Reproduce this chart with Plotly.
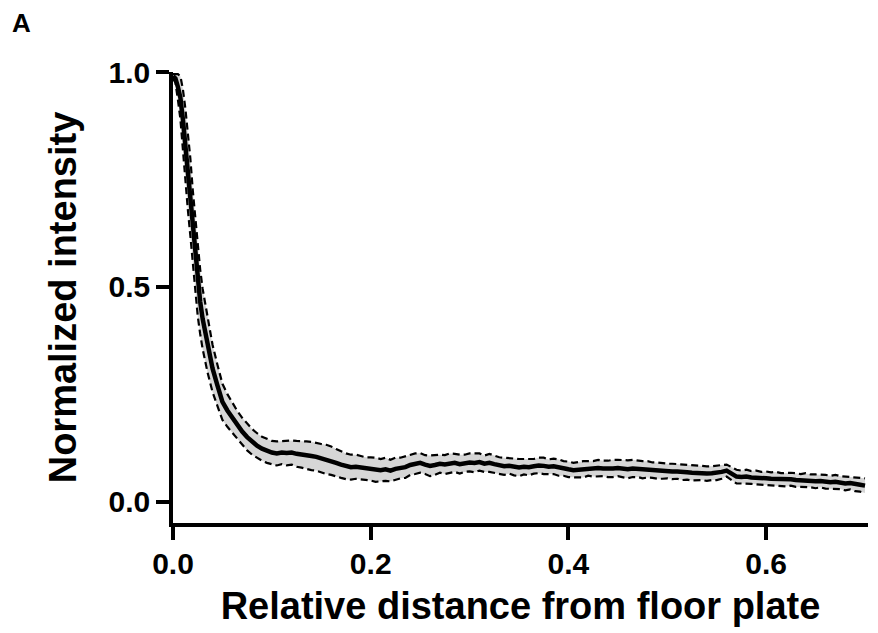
import plotly.graph_objects as go

# Relative distance from floor plate
distance = [
    0.0, 0.0025, 0.005, 0.0075, 0.01, 0.0125, 0.015, 0.0175, 0.02, 0.0225, 0.025, 0.0275, 0.03,
    0.035, 0.04, 0.045, 0.05, 0.055, 0.06, 0.065, 0.07, 0.075, 0.08,
    0.085, 0.09, 0.095, 0.1, 0.105, 0.11, 0.115, 0.12, 0.125, 0.13,
    0.135, 0.14, 0.145, 0.15, 0.155, 0.16, 0.165, 0.17, 0.175, 0.18,
    0.185, 0.19, 0.195, 0.2, 0.205, 0.21, 0.215, 0.22, 0.225, 0.23,
    0.235, 0.24, 0.245, 0.25, 0.255, 0.26, 0.265, 0.27, 0.275, 0.28,
    0.285, 0.29, 0.295, 0.3, 0.305, 0.31, 0.315, 0.32, 0.325, 0.33,
    0.335, 0.34, 0.345, 0.35, 0.355, 0.36, 0.365, 0.37, 0.375, 0.38,
    0.385, 0.39, 0.395, 0.4, 0.405, 0.41, 0.415, 0.42, 0.425, 0.43,
    0.435, 0.44, 0.445, 0.45, 0.455, 0.46, 0.465, 0.47, 0.475, 0.48,
    0.485, 0.49, 0.495, 0.5, 0.505, 0.51, 0.515, 0.52, 0.525, 0.53,
    0.535, 0.54, 0.545, 0.55, 0.555, 0.56, 0.565, 0.57, 0.575, 0.58,
    0.585, 0.59, 0.595, 0.6, 0.605, 0.61, 0.615, 0.62, 0.625, 0.63,
    0.635, 0.64, 0.645, 0.65, 0.655, 0.66, 0.665, 0.67, 0.675, 0.68,
    0.685, 0.69, 0.695, 0.7,
]

# Mean normalized intensity
mean_intensity = [
    0.99, 0.985, 0.965, 0.94, 0.89, 0.83, 0.77, 0.71, 0.64, 0.58, 0.51, 0.465, 0.425,
    0.365, 0.31, 0.27, 0.232, 0.212, 0.195, 0.178, 0.163, 0.15, 0.139,
    0.13, 0.123, 0.118, 0.114, 0.112, 0.114, 0.113, 0.114, 0.111, 0.11,
    0.108, 0.106, 0.104, 0.101, 0.098, 0.095, 0.09, 0.086, 0.082, 0.08,
    0.081, 0.079, 0.077, 0.076, 0.074, 0.073, 0.075, 0.072, 0.076, 0.078,
    0.08, 0.085, 0.088, 0.09, 0.086, 0.083, 0.085, 0.088, 0.086, 0.089,
    0.09, 0.087, 0.089, 0.091, 0.09, 0.092, 0.088, 0.09, 0.087, 0.084,
    0.082, 0.083, 0.08, 0.079, 0.081, 0.08, 0.082, 0.084, 0.083, 0.081,
    0.082, 0.079, 0.077, 0.075, 0.073, 0.074, 0.075, 0.077, 0.076, 0.078,
    0.077, 0.076, 0.077, 0.078, 0.076, 0.075, 0.077, 0.076, 0.074, 0.075,
    0.073, 0.072, 0.071, 0.071, 0.07, 0.07, 0.068, 0.068, 0.067, 0.066,
    0.066, 0.065, 0.066, 0.067, 0.069, 0.072, 0.064, 0.058, 0.057, 0.058,
    0.056, 0.056, 0.054, 0.054, 0.053, 0.053, 0.051, 0.051, 0.052, 0.05,
    0.049, 0.05, 0.048, 0.047, 0.048, 0.046, 0.045, 0.046, 0.044, 0.042,
    0.043, 0.04, 0.039, 0.037,
]

# Standard error of the mean
sem_intensity = [
    0.005, 0.01, 0.03, 0.05, 0.07, 0.085, 0.09, 0.09, 0.085, 0.08, 0.078, 0.075, 0.07,
    0.065, 0.055, 0.048, 0.042, 0.038, 0.035, 0.033, 0.032, 0.031, 0.03,
    0.029, 0.028, 0.028, 0.027, 0.028, 0.027, 0.029, 0.028, 0.03, 0.031,
    0.032, 0.033, 0.032, 0.033, 0.034, 0.033, 0.032, 0.031, 0.03, 0.029,
    0.028, 0.027, 0.026, 0.027, 0.028, 0.026, 0.027, 0.025, 0.026, 0.024,
    0.025, 0.023, 0.024, 0.023, 0.022, 0.024, 0.023, 0.021, 0.022, 0.023,
    0.021, 0.022, 0.02, 0.021, 0.022, 0.02, 0.019, 0.021, 0.02, 0.019,
    0.02, 0.018, 0.019, 0.02, 0.018, 0.019, 0.017, 0.018, 0.019, 0.017,
    0.018, 0.019, 0.017, 0.018, 0.017, 0.018, 0.019, 0.017, 0.018, 0.019,
    0.018, 0.019, 0.02, 0.019, 0.02, 0.021, 0.02, 0.019, 0.02, 0.019,
    0.018, 0.019, 0.018, 0.017, 0.018, 0.017, 0.018, 0.017, 0.018, 0.017,
    0.016, 0.017, 0.016, 0.017, 0.016, 0.014, 0.015, 0.016, 0.015, 0.016,
    0.015, 0.016, 0.015, 0.016, 0.015, 0.016, 0.015, 0.016, 0.015, 0.016,
    0.015, 0.016, 0.015, 0.016, 0.015, 0.016, 0.015, 0.016, 0.015, 0.016,
    0.015, 0.016, 0.016, 0.017,
]

x_ticks = [0.0, 0.2, 0.4, 0.6]
x_tick_labels = ["0.0", "0.2", "0.4", "0.6"]
y_ticks = [0.0, 0.5, 1.0]
y_tick_labels = ["0.0", "0.5", "1.0"]

upper = [m + s for m, s in zip(mean_intensity, sem_intensity)]
lower = [m - s for m, s in zip(mean_intensity, sem_intensity)]

FONT = "Arial, 'Liberation Sans', Helvetica, sans-serif"

fig = go.Figure()
fig.add_trace(go.Scatter(x=distance, y=lower, mode="lines",
                         line=dict(color="rgba(0,0,0,0)", width=0),
                         showlegend=False, hoverinfo="skip"))
fig.add_trace(go.Scatter(x=distance, y=upper, mode="lines", fill="tonexty",
                         fillcolor="#d6d6d6",
                         line=dict(color="rgba(0,0,0,0)", width=0),
                         showlegend=False, hoverinfo="skip"))
fig.add_trace(go.Scatter(x=distance, y=upper, mode="lines",
                         line=dict(color="black", width=2.2, dash="7px,4px"),
                         showlegend=False))
fig.add_trace(go.Scatter(x=distance, y=lower, mode="lines",
                         line=dict(color="black", width=2.2, dash="7px,4px"),
                         showlegend=False))
fig.add_trace(go.Scatter(x=distance, y=mean_intensity, mode="lines",
                         line=dict(color="black", width=4.5),
                         showlegend=False))

# The page body adds an 8px offset, so the figure is sized to compensate.
fig.update_layout(
    width=870, height=625,
    margin=dict(l=165, r=10, t=64, b=110),
    paper_bgcolor="white", plot_bgcolor="white",
    font=dict(family=FONT, color="black"),
    xaxis=dict(
        range=[0, 0.703], automargin=False,
        tickmode="array", tickvals=x_ticks, ticktext=x_tick_labels,
        ticks="outside", ticklen=13, tickwidth=3.5, tickcolor="black",
        ticklabelstandoff=-2,
        showline=True, linewidth=3.5, linecolor="black",
        showgrid=False, zeroline=False,
        tickfont=dict(size=30, family=FONT, weight="bold"),
        title=dict(text="<b>Relative distance from floor plate</b>",
                   font=dict(size=38, family=FONT), standoff=15),
    ),
    yaxis=dict(
        range=[-0.05, 1.0], automargin=False,
        tickmode="array", tickvals=y_ticks, ticktext=y_tick_labels,
        ticks="outside", ticklen=13, tickwidth=3.5, tickcolor="black",
        showline=True, linewidth=3.5, linecolor="black",
        showgrid=False, zeroline=False,
        tickfont=dict(size=30, family=FONT, weight="bold"),
        title=dict(text="<b>Normalized intensity</b>",
                   font=dict(size=38, family=FONT), standoff=21),
    ),
    annotations=[dict(
        text="<b>A</b>", xref="paper", yref="paper",
        x=(13 - 165) / 695, y=(515 - 15) / 451,
        xanchor="center", yanchor="middle", showarrow=False,
        font=dict(size=26, family=FONT, color="black"),
    )],
)

fig.write_html("out.html")
